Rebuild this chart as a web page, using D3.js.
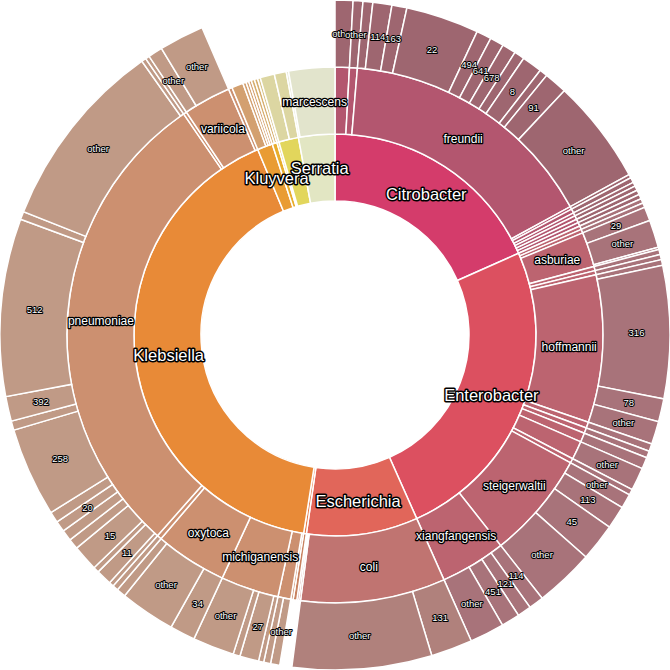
<!DOCTYPE html>
<html>
<head>
<meta charset="utf-8">
<script src="https://cdn.jsdelivr.net/npm/d3@7"></script>
<style>
  body { margin: 0; background: #fff; }
  text { font-family: "Liberation Sans", Arial, sans-serif; paint-order: stroke; stroke: #000; fill: #fff; stroke-linejoin: round; }
</style>
</head>
<body>
<div id="viz"></div>
<script>
// genus ring, inner to outer colours per genus
const genera = ["Citrobacter", "Enterobacter", "Escherichia", "", "Klebsiella", "Kluyvera", "", "", "", "Serratia"];
const genusColors = ["#d43c6b", "#dc5060", "#e1665a", "#e47a48", "#e88a37", "#e99c33", "#e8ad2c", "#e8c040", "#e2d65c", "#e2e6c3"];
const speciesColors = ["#b3566f", "#bc6470", "#c07471", "#c88260", "#cc9070", "#d3a070", "#d6ae6e", "#d8c48a", "#dcd6a2", "#e2e4cc"];
const strainColors = ["#9e6670", "#a8737a", "#b0817c", "#b88a80", "#c09a86", "#c8a888", "#ccb090", "#d0c4a0", "#d4d0b0", "#e0e0d0"];

// species: [name, value] or [name, [[strain, value], ...]]
const citrobacter = [
  ["", [["other", 3.1]]],
  ["", [["other", 1.7]]],
  ["freundii", [["", 1.7], ["114", 3.3], ["163", 2.6], ["22", 12.7], ["494", 2.6], ["641", 2.4], ["678", 2.4],
    ["", 1.8], ["8", 3.5], ["", 1.4], ["91", 4.0], ["other", 18.2]]],
  ["", [["", 0.6]]], ["", [["", 0.9]]], ["", [["", 0.7]]], ["", [["", 0.8]]], ["", [["", 0.8]]], ["", [["", 0.8]]],
];
const enterobacter = [
  ["", [["", 0.8]]], ["", [["", 0.8]]],
  ["asburiae", [["29", 2.4], ["other", 4.8], ["", 0.4]]],
  ["", [["", 0.9]]], ["", [["", 0.9]]],
  ["hoffmannii", [["", 1.0], ["316", 23], ["78", 4], ["other", 4]]],
  ["", [["", 1.3]]], ["", [["", 1.2]]], ["", [["", 2.0]]], ["", [["other", 4.0]]], ["", [["", 1.0]]],
  ["steigerwaltii", [["other", 2.5], ["113", 4], ["45", 6.5], ["other", 10.3]]],
  ["xiangfangensis", [["114", 2.6], ["121", 2.4], ["451", 3.2], ["other", 6]]],
];
const escherichia = [
  ["coli", [["131", 7.2], ["other", 24.2]]],
  ["", 0.4], ["", 0.4],
];
const minorA = [["", 0.8]];
const klebsiella = [
  ["", 0.5],
  ["", [["other", 1.6], ["", 1.2]]],
  ["michiganensis", [["", 0.9], ["27", 3.3], ["", 1.2], ["other", 7.2]]],
  ["oxytoca", [["34", 4.4], ["other", 9.6], ["", 1.6]]],
  ["", [["", 1.0]]],
  ["pneumoniae", [["", 0.8], ["11", 2.7], ["", 1.0], ["15", 4.5], ["", 1.8], ["", 1.9], ["20", 1.9], ["", 1.9],
    ["258", 15.5], ["", 1.6], ["392", 4.3], ["512", 30.8], ["", 1.4], ["other", 33.2], ["", 0.8]]],
  ["", [["", 0.7]]],
  ["variicola", [["other", 2.5], ["other", 7.8]]],
  ["", 0.8],
];
const kluyvera = [["", 2.5], ["", 0.7], ["", 0.6], ["", 0.6]];
const minorB = [["", 0.7], ["", 0.7]];
const minorC = [["", 0.6]];
const minorD = [["", 3.1], ["", 2.6]];
const serratia = [["", 0.5], ["marcescens", 10.0]];
const speciesLists = [citrobacter, enterobacter, escherichia, minorA, klebsiella, kluyvera, minorB, minorC, minorD, serratia];

const width = 670;
const height = 670;

const tree = {
  name: "",
  children: genera.map((g, gi) => ({
    name: g,
    gi,
    children: speciesLists[gi].map(([name, v]) => Array.isArray(v)
      ? { name, gi, children: v.map(([s, value]) => ({ name: s, gi, value })) }
      : { name, gi, value: v })
  }))
};

const root = d3.partition()
  .size([2 * Math.PI, 4])(
    d3.hierarchy(tree).sum(d => d.children ? 0 : d.value)
  );

const r = d3.scaleLinear().domain([0, 4]).range([67, 335]);
const palette = [null, genusColors, speciesColors, strainColors];
const fontSize = [0, 16.5, 12, 9.5];
const haloWidth = [0, 3, 2.6, 2];

const arc = d3.arc()
  .startAngle(d => d.x0)
  .endAngle(d => d.x1)
  .innerRadius(d => r(d.y0))
  .outerRadius(d => r(d.y1));

const svg = d3.select("#viz")
  .append("svg")
  .attr("width", width)
  .attr("height", height);

const g = svg.append("g")
  .attr("transform", `translate(${width / 2},${height / 2})`);

const nodes = root.descendants().filter(d => d.depth > 0);

g.selectAll("path")
  .data(nodes)
  .join("path")
  .attr("d", arc)
  .attr("fill", d => palette[d.depth][d.data.gi])
  .attr("stroke", "#fff")
  .attr("stroke-width", 1.5);

g.selectAll("text")
  .data(nodes.filter(d => d.data.name))
  .join("text")
  .attr("transform", d => `translate(${arc.centroid(d)})`)
  .attr("text-anchor", "middle")
  .attr("dy", "0.35em")
  .attr("font-size", d => fontSize[d.depth])
  .attr("stroke-width", d => haloWidth[d.depth])
  .text(d => d.data.name);
</script>
</body>
</html>
